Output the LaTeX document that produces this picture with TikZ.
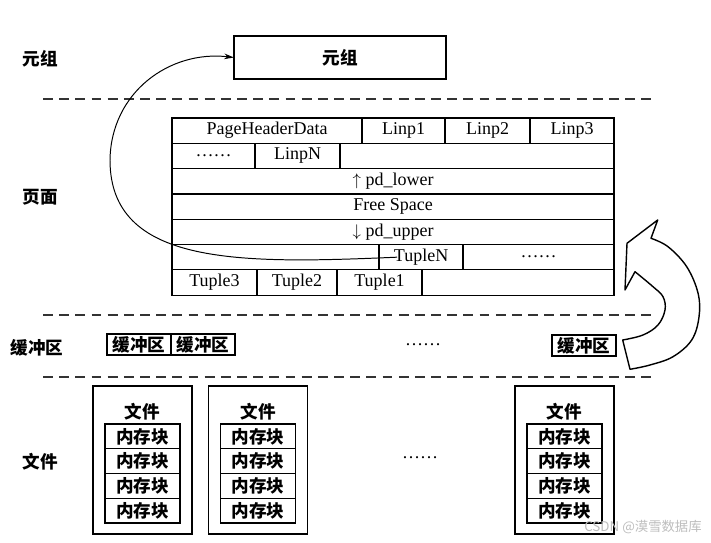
\documentclass[tikz,border=0pt]{standalone}
\usepackage{fontspec}
\setmainfont{Liberation Serif}
\newfontfamily\cjk{Noto Sans CJK SC}
\usetikzlibrary{arrows.meta,positioning}
\definecolor{Mark}{HTML}{BDBDBD}
\newcommand\zhfont{\cjk\bfseries\fontsize{12.5}{14}\selectfont}

\begin{document}
\begin{tikzpicture}[
  x=0.025cm,y=-0.025cm,
  >={Stealth[length=7pt,width=4pt]},
  every node/.style={font=\fontsize{12.8}{14}\selectfont,inner sep=0pt,outer sep=0pt},
  layer/.style={font=\zhfont},
  cell/.style={draw,line width=0.9pt,minimum height=0.6325cm},
  sep/.style={draw=black!80,line width=0.9pt,dash pattern=on 7pt off 4.5pt},
  tupbox/.style={draw,line width=1pt,minimum width=5.3cm,minimum height=1.075cm,font=\zhfont},
  bufbox/.style={draw,line width=1.1pt,minimum width=1.6cm,minimum height=0.525cm,font=\zhfont},
  filebox/.style={draw,line width=1pt,minimum width=2.475cm,minimum height=3.7cm},
  blkbox/.style={draw,line width=1pt,minimum width=1.875cm,minimum height=0.619cm,font=\zhfont}
]
  \useasboundingbox (0,0) rectangle (711,543);

  % layer names on the left
  \node[layer] (ltup) at (40,59) {元组};
  \node[layer] (lpage) at (40,197) {页面};
  \node[layer] (lbuf) at (37,348) {缓冲区};
  \node[layer] (lfile) at (40,462) {文件};

  % separators
  \foreach \y in {99,315,377}
    \draw[sep] (43,\y) -- (655,\y);

  % tuple
  \node[tupbox] (tup) at (340,57.5) {元组};

  % page layout
  \node[cell,minimum width=4.75cm,anchor=north west] (hdr) at (172,118) {PageHeaderData};
  \node[cell,minimum width=2.075cm,right=0pt of hdr] (lp1) {Linp1};
  \node[cell,minimum width=2.125cm,right=0pt of lp1] (lp2) {Linp2};
  \node[cell,minimum width=2.1cm,right=0pt of lp2] (lp3) {Linp3};
  \node[cell,minimum width=2.075cm,anchor=north west] (lpdots) at (hdr.south west) {……};
  \node[cell,minimum width=2.125cm,right=0pt of lpdots] (lpN) {LinpN};
  \node[cell,minimum width=6.85cm,right=0pt of lpN] (lpfree) {};
  \node[cell,minimum width=11.05cm,anchor=north west] (lower) at (lpdots.south west) {$\uparrow$ pd\_lower};
  \node[cell,minimum width=11.05cm,below=0pt of lower] (free) {Free Space};
  \node[cell,minimum width=11.05cm,below=0pt of free] (upper) {$\downarrow$ pd\_upper};
  \node[cell,minimum width=5.175cm,anchor=north west] (tupfree) at (upper.south west) {};
  \node[cell,minimum width=2.1cm,right=0pt of tupfree] (tupN) {TupleN};
  \node[cell,minimum width=3.775cm,right=0pt of tupN] (tupdots) {……};
  \node[cell,minimum width=2.125cm,anchor=north west] (tup3) at (tupfree.south west) {Tuple3};
  \node[cell,minimum width=2cm,right=0pt of tup3] (tup2) {Tuple2};
  \node[cell,minimum width=2.125cm,right=0pt of tup2] (tup1) {Tuple1};
  \node[cell,minimum width=4.8cm,right=0pt of tup1] (tupend) {};

  % tuple read out of the page
  \coordinate (bend) at (110,160);
  \draw[->,line width=0.7pt] ([xshift=0.45cm]tupN.west) .. controls (240,264) and (110,266) .. (bend)
    .. controls (111,92) and (170,50) .. (tup.west);

  % buffers
  \node[bufbox] (buf1) at (139,344.5) {缓冲区};
  \node[bufbox,right=0pt of buf1] (buf2) {缓冲区};
  \node (bufdots) at (423,345) {……};
  \node[bufbox] (buf3) at (584,345.5) {缓冲区};

  % buffer to page
  \draw[line width=1pt,line join=round,fill=white] (657.7,220) -- (651,238.3)
    -- plot[smooth,tension=0.6] coordinates {(651,238.3) (668,246.7) (686.7,266.7) (698,293) (699,317) (691.7,340) (673,356.7) (650,365) (630,369.3)}
    -- (622.7,340)
    -- plot[smooth,tension=0.6] coordinates {(622.7,340) (643,335) (658,325) (665,310) (663,296.7) (653,286.7) (635,271.7)}
    -- (625,290) -- (627,243.3) -- cycle;

  % files
  \foreach \n/\x in {1/142.5,2/258,3/564.5} {
    \node[filebox] (file\n) at (\x,460) {};
    \node[layer] (file\n t) at (\x,412) {文件};
    \foreach \k in {1,...,4}
      \node[blkbox] (file\n b\k) at (\x,{411.6+24.75*\k}) {内存块};
  }
  \node (filedots) at (420,458) {……};

  \node[font=\cjk\fontsize{9.5}{11}\selectfont,text=Mark] (mark) at (643,527) {CSDN @漠雪数据库};
\end{tikzpicture}
\end{document}
